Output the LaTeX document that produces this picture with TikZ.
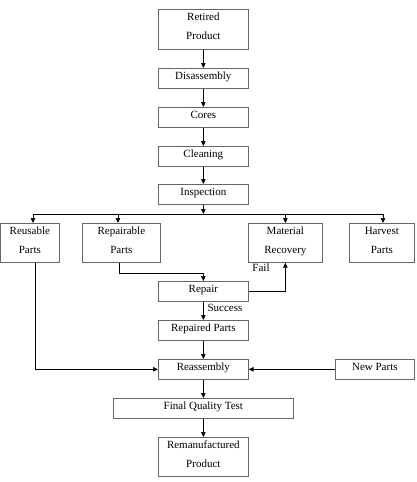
\documentclass[tikz,border=0pt]{standalone}
\usepackage{fontspec}
\setmainfont{Liberation Serif}
\usetikzlibrary{arrows.meta,shadows}
\begin{document}
\begin{tikzpicture}[x=1pt,y=-1pt,
  box/.style={draw=black!60, line width=0.7pt, fill=white, anchor=north west,
    inner xsep=0pt, inner ysep=3pt, text height=8pt, text depth=6pt,
    align=center, font=\fontsize{11}{19}\selectfont,
    drop shadow={shadow xshift=0.8pt, shadow yshift=-0.8pt, fill=black!25, opacity=0.6}},
  twobox/.style={box, text height=27pt},
  conn/.style={line width=0.7pt, -{Triangle[length=5pt,width=4.5pt]}},
  lbl/.style={font=\fontsize{11}{13}\selectfont, inner sep=0pt}]
\useasboundingbox (0,0) rectangle (416,482);
% main column
\node[twobox, minimum width=90pt, minimum height=40pt] (ret) at (158,9) {Retired\\Product};
\node[box, minimum width=90pt, minimum height=20pt] (dis) at (158,68) {Disassembly};
\node[box, minimum width=90pt, minimum height=20pt] (cor) at (158,107) {Cores};
\node[box, minimum width=90pt, minimum height=20pt] (cln) at (158,146) {Cleaning};
\node[box, minimum width=90pt, minimum height=20pt] (ins) at (158,184) {Inspection};
% second row
\node[twobox, minimum width=58pt, minimum height=39pt] (reu) at (0.5,223) {Reusable\\Parts};
\node[twobox, minimum width=78pt, minimum height=39pt] (rpb) at (82,223) {Repairable\\Parts};
\node[twobox, minimum width=74pt, minimum height=39pt] (mat) at (248,223) {Material\\Recovery};
\node[twobox, minimum width=65pt, minimum height=39pt] (har) at (349,223) {Harvest\\Parts};
% lower column
\node[box, minimum width=90pt, minimum height=20pt] (rpr) at (158,281) {Repair};
\node[box, minimum width=90pt, minimum height=20pt] (rpd) at (158,320) {Repaired Parts};
\node[box, minimum width=90pt, minimum height=20pt] (rea) at (158,359) {Reassembly};
\node[box, minimum width=79pt, minimum height=20pt] (new) at (335,359) {New Parts};
\node[box, minimum width=180pt, minimum height=19pt] (fqt) at (113,398) {Final Quality Test};
\node[twobox, minimum width=90pt, minimum height=39pt] (rem) at (158,437) {Remanufactured\\Product};
% labels
\node[lbl] (fail) at (261,268) {Fail};
\node[lbl] (succ) at (225,308) {Success};
% bus
\coordinate (busL) at (33,214);
\coordinate (busR) at (383,214);
\coordinate (busC) at (ins.south |- busL);
\draw[line width=0.7pt] (busL) -- (busR);
% connectors
\draw[conn] (ret) -- (dis);
\draw[conn] (dis) -- (cor);
\draw[conn] (cor) -- (cln);
\draw[conn] (cln) -- (ins);
\draw[conn] (ins) -- (busC);
\draw[conn] (busL) -- (busL |- reu.north);
\draw[conn] (118,214) coordinate (busB) -- (busB |- rpb.north);
\draw[conn] (mat.north |- busL) -- (mat.north);
\draw[conn] (busR) -- (busR |- har.north);
\coordinate (rpbOut) at (119,262);
\draw[conn] (rpbOut |- rpb.south) -- (119,273) -| (rpr.north);
\draw[conn] (rpr.east) -| (mat.south);
\draw[conn] (rpr) -- (rpd);
\draw[conn] (rpd) -- (rea);
\coordinate (reuOut) at (35,262);
\draw[conn] (reuOut |- reu.south) |- (rea.west);
\draw[conn] (new) -- (rea);
\draw[conn] (rea.south) -- (rea.south |- fqt.north);
\draw[conn] (rem.north |- fqt.south) -- (rem.north);
\end{tikzpicture}
\end{document}
